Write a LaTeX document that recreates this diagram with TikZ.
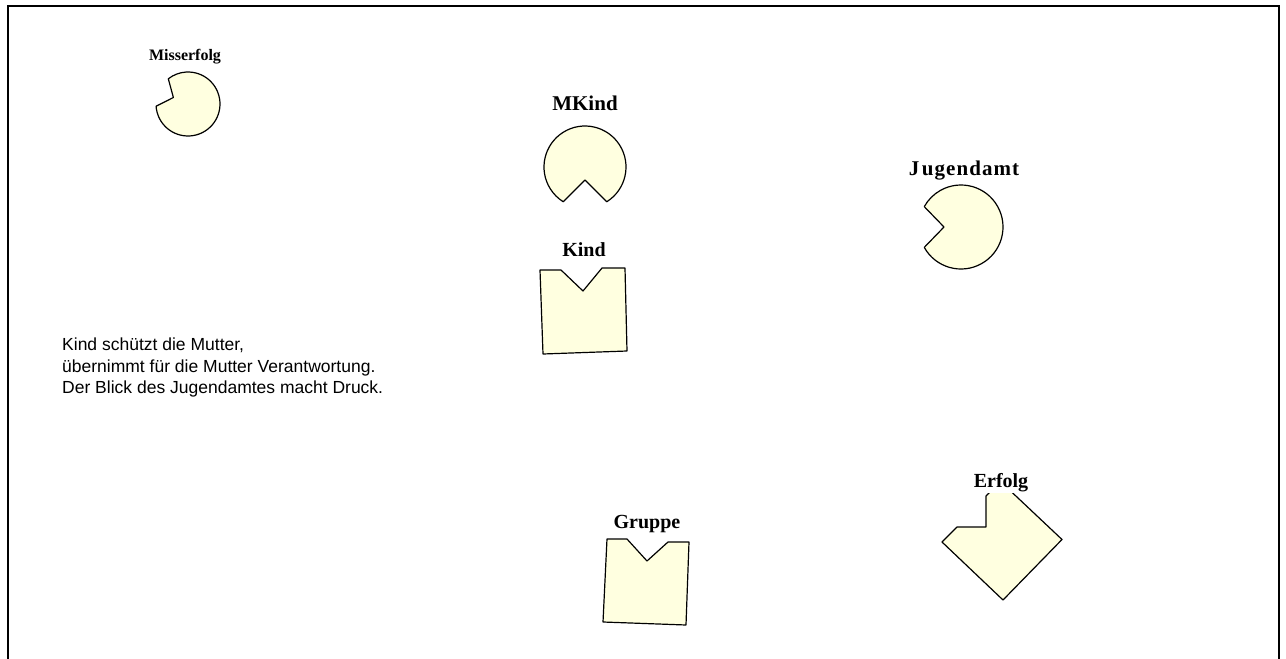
\documentclass[tikz,border=0pt]{standalone}
\usepackage{fontspec}
\setmainfont{Liberation Serif}
\newfontfamily\sansf{Liberation Sans}
\usetikzlibrary{calc}
\definecolor{figfill}{RGB}{255,255,224}
\tikzset{
  fig/.style={draw=black, fill=figfill, line width=1.2pt, line join=round},
  lbl/.style={anchor=base, inner sep=1.5pt, fill=white, font=\bfseries\fontsize{20}{24}\selectfont},
  slbl/.style={anchor=base, inner sep=1.5pt, fill=white, font=\bfseries\fontsize{16}{19}\selectfont},
  note/.style={anchor=base west, inner sep=0pt, font=\sansf\fontsize{17.5}{21}\selectfont},
  frame/.style={draw=black, line width=2pt}
}
% circle figure with a 90-degree notch: center, radius, direction, half angle, tip distance
\newcommand{\pacfig}[5]{%
  \draw[fig] (#1) ++({#3+#4}:#2) arc[start angle={#3+#4}, end angle={#3+360-#4}, radius=#2]
    -- ($(#1)+(#3:#5)$) -- cycle;}
\begin{document}
\begin{tikzpicture}[x=1pt,y=1pt]
\useasboundingbox (0,0) rectangle (1286,-659);
\draw[frame] (7.5,-659) -- (7.5,-5.5) -- (1279,-5.5) -- (1279,-659);

% circles
\coordinate (cMiss) at (188,-104);
\coordinate (cMKind) at (585,-167);
\coordinate (cJug) at (961,-227);
\pacfig{cMiss}{32pt}{156}{28}{16pt}
\pacfig{cMKind}{41pt}{270}{32}{13pt}
\pacfig{cJug}{42pt}{180}{29}{17pt}

% squares
\draw[fig] (540,-270) -- (561,-270) -- (583,-291) -- (602,-268) -- (625,-268) -- (627,-351) -- (543,-354) -- cycle;
\draw[fig] (607,-539) -- (627,-539) -- (647,-561) -- (668,-542) -- (689,-542) -- (686,-625) -- (603,-622) -- cycle;
\draw[fig] (942,-542) -- (957,-527) -- (986,-527) -- (986,-496) -- (1000.5,-481.5) -- (1062,-539.5) -- (1003,-600) -- cycle;

% labels
\node[slbl] (lMiss) at (185,-60) {Misserfolg};
\node[lbl, font=\bfseries\fontsize{21}{25}\selectfont] (lMKind) at (585,-110) {MKind};
\node[lbl] (lKind) at (584,-256.7) {Kind};
\node[lbl, font=\bfseries\fontsize{21}{25}\selectfont\addfontfeature{LetterSpace=5}] (lJug) at (964,-175) {J\hspace{2.5pt}ugendamt};
\node[lbl] (lGruppe) at (647,-528.3) {Gruppe};
\node[lbl] (lErfolg) at (1001,-487) {Erfolg};

% note
\node[note] (n1) at (62,-350.7) {Kind schützt die Mutter,};
\node[note] (n2) at (62,-372) {übernimmt für die Mutter Verantwortung.};
\node[note] (n3) at (62,-393.3) {Der Blick des Jugendamtes macht Druck.};
\end{tikzpicture}
\end{document}
